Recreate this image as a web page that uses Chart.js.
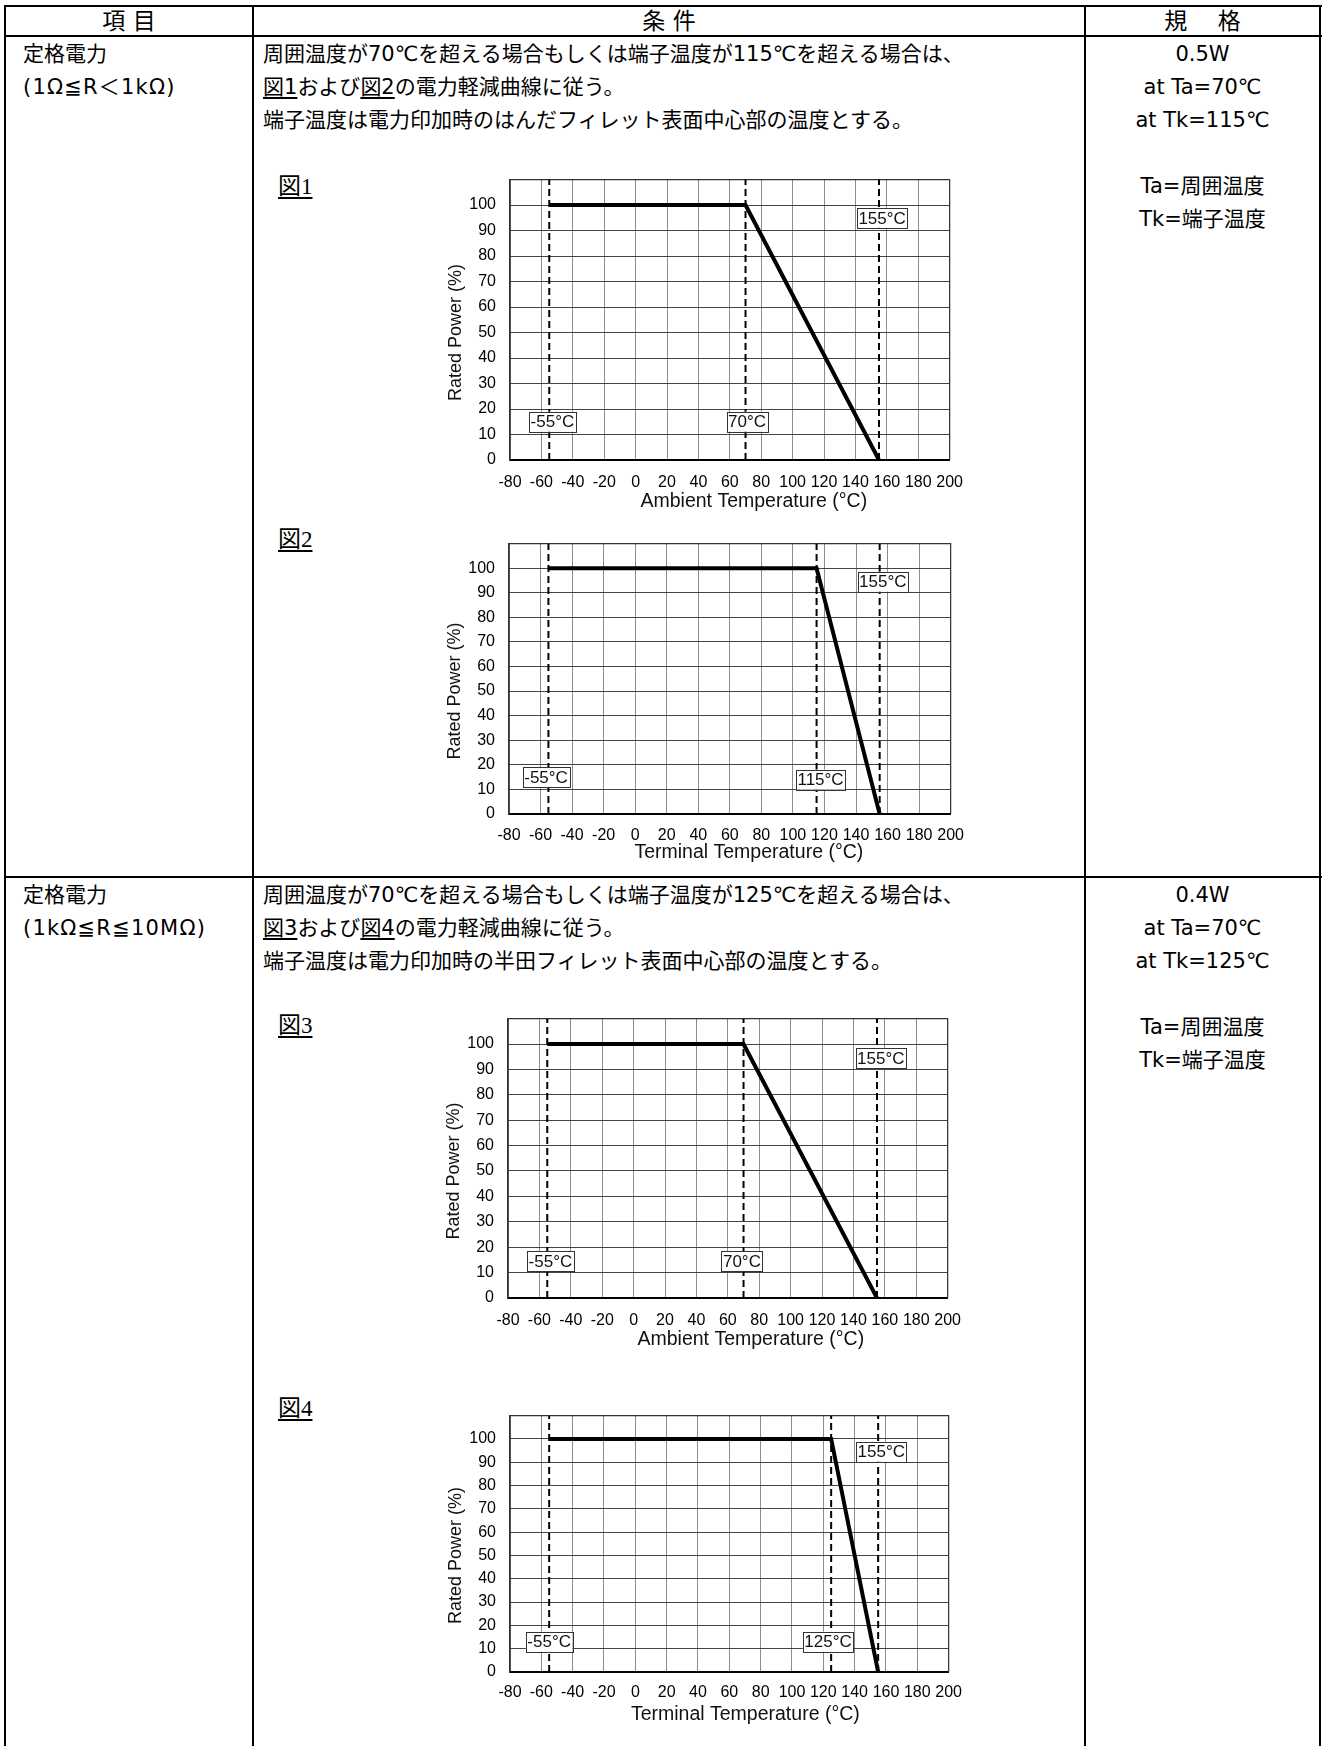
<!DOCTYPE html>
<html lang="ja">
<head>
<meta charset="utf-8">
<script src="https://cdn.jsdelivr.net/npm/chart.js@4.4.1/dist/chart.umd.min.js"></script>
<style>
html,body{margin:0;padding:0;background:#fff;overflow:hidden;}
body{width:1324px;height:1746px;position:relative;font-family:"DejaVu Sans","Noto Sans CJK JP",sans-serif;color:#000;}
.ln{position:absolute;background:#000;}
.t{position:absolute;font-size:21px;line-height:33px;white-space:nowrap;}
.h{position:absolute;font-size:23px;line-height:30px;top:6px;height:30px;text-align:center;white-space:pre;}
.c{text-align:center;}
.sp{letter-spacing:1.2px;}
u{text-decoration-thickness:1.5px;text-underline-offset:3px;}
.fig{position:absolute;left:278px;font-family:"Liberation Serif","Noto Sans CJK JP",serif;font-size:23px;line-height:26px;text-decoration:underline;text-decoration-thickness:2px;text-underline-offset:3px;}
canvas{position:absolute;}
</style>
</head>
<body>
<!-- table borders -->
<div class="ln" style="left:4px;top:5px;width:1318px;height:2px"></div>
<div class="ln" style="left:4px;top:35px;width:1318px;height:2px"></div>
<div class="ln" style="left:4px;top:876px;width:1318px;height:2px"></div>
<div class="ln" style="left:4px;top:5px;width:2px;height:1741px"></div>
<div class="ln" style="left:252px;top:5px;width:2px;height:1741px"></div>
<div class="ln" style="left:1084px;top:5px;width:2px;height:1741px"></div>
<div class="ln" style="left:1319px;top:5px;width:2px;height:1741px"></div>

<!-- header -->
<div class="h" style="left:6px;width:246px">項 目</div>
<div class="h" style="left:254px;width:830px">条 件</div>
<div class="h" style="left:1086px;width:233px">規　 格</div>

<!-- row 1 -->
<div class="t" style="left:23px;top:37.5px">定格電力<br><span class="sp">(1Ω≦R＜1kΩ)</span></div>
<div class="t" style="left:263px;top:37.5px">周囲温度が70℃を超える場合もしくは端子温度が115℃を超える場合は、<br><u>図1</u>および<u>図2</u>の電力軽減曲線に従う。<br>端子温度は電力印加時のはんだフィレット表面中心部の温度とする。</div>
<div class="t c" style="left:1086px;width:233px;top:37.5px">0.5W<br>at Ta=70℃<br>at Tk=115℃<br>&nbsp;<br>Ta=周囲温度<br>Tk=端子温度</div>
<div class="fig" style="top:174px">図1</div>
<div class="fig" style="top:527px">図2</div>

<!-- row 2 -->
<div class="t" style="left:23px;top:878.5px">定格電力<br><span class="sp">(1kΩ≦R≦10MΩ)</span></div>
<div class="t" style="left:263px;top:878.5px">周囲温度が70℃を超える場合もしくは端子温度が125℃を超える場合は、<br><u>図3</u>および<u>図4</u>の電力軽減曲線に従う。<br>端子温度は電力印加時の半田フィレット表面中心部の温度とする。</div>
<div class="t c" style="left:1086px;width:233px;top:878.5px">0.4W<br>at Ta=70℃<br>at Tk=125℃<br>&nbsp;<br>Ta=周囲温度<br>Tk=端子温度</div>
<div class="fig" style="top:1013px">図3</div>
<div class="fig" style="top:1396px">図4</div>

<canvas id="c1"></canvas>
<canvas id="c2"></canvas>
<canvas id="c3"></canvas>
<canvas id="c4"></canvas>

<script>
// ---- data ----
const xTickLabels = ['-80','-60','-40','-20','0','20','40','60','80','100','120','140','160','180','200'];
const yTickLabels = ['0','10','20','30','40','50','60','70','80','90','100'];

const fig1Temp = [-55, 70, 155];
const fig1Power = [100, 100, 0];
const fig2Temp = [-55, 115, 155];
const fig2Power = [100, 100, 0];
const fig3Temp = [-55, 70, 155];
const fig3Power = [100, 100, 0];
const fig4Temp = [-55, 125, 155];
const fig4Power = [100, 100, 0];

const fig1Guides = [-55, 70, 155];
const fig2Guides = [-55, 115, 155];
const fig3Guides = [-55, 70, 155];
const fig4Guides = [-55, 125, 155];

const fig1Notes = ['-55°C', '70°C', '155°C'];
const fig2Notes = ['-55°C', '115°C', '155°C'];
const fig3Notes = ['-55°C', '70°C', '155°C'];
const fig4Notes = ['-55°C', '125°C', '155°C'];

const ambientTitle = 'Ambient Temperature (°C)';
const terminalTitle = 'Terminal Temperature (°C)';
const powerTitle = 'Rated Power (%)';

const X_MIN = -80, X_MAX = 200, Y_MIN = 0, Y_MAX = 110;

// ---- layout (positions / styles) ----
const layouts = [
  {id:'c1', plot:[510,180,950,461], notesAt:[[-53,15],[71,15],[157,95]], xTitleDx:24, xTitleDy:42, tickPad:13},
  {id:'c2', plot:[509,544,951,815], notesAt:[[-56.5,15],[117.5,14],[157,94.5]], xTitleDx:19, xTitleDy:39, tickPad:12},
  {id:'c3', plot:[508,1019,948,1299], notesAt:[[-53,14.5],[69,14.5],[157.4,94.5]], xTitleDx:23, xTitleDy:42, tickPad:13},
  {id:'c4', plot:[510,1416,949,1673], notesAt:[[-55,13],[123,13],[157,94.5]], xTitleDx:16, xTitleDy:43, tickPad:11}
];
const FONT = "'Liberation Sans', Arial, sans-serif";
Chart.defaults.font.family = FONT;
Chart.defaults.color = '#000';

function makeDecor(cfg, notes, xTitle) {
  return {
    id: 'decor_' + cfg.id,
    beforeDatasetsDraw(chart) {
      const {ctx, chartArea: a} = chart;
      ctx.save();
      ctx.strokeStyle = '#333';
      ctx.lineWidth = 1.2;
      ctx.beginPath();
      ctx.moveTo(a.left, a.bottom);
      ctx.lineTo(a.left, a.top);
      ctx.lineTo(a.right, a.top);
      ctx.lineTo(a.right, a.bottom);
      ctx.stroke();
      ctx.restore();
    },
    afterDatasetsDraw(chart) {
      const {ctx} = chart;
      const xs = chart.scales.x, ys = chart.scales.y;
      ctx.save();
      ctx.font = '17px ' + FONT;
      ctx.textAlign = 'center';
      ctx.textBaseline = 'middle';
      notes.forEach((txt, i) => {
        const px = xs.getPixelForValue(cfg.notesAt[i][0]);
        const py = ys.getPixelForValue(cfg.notesAt[i][1]);
        const w = ctx.measureText(txt).width + 3;
        const h = 20;
        ctx.fillStyle = '#fff';
        ctx.fillRect(px - w/2, py - h/2, w, h);
        ctx.strokeStyle = '#333';
        ctx.lineWidth = 1;
        ctx.strokeRect(Math.round(px - w/2) + 0.5, Math.round(py - h/2) + 0.5, Math.round(w), h);
        ctx.fillStyle = '#111';
        ctx.fillText(txt, px, py + 1);
      });
      ctx.restore();
    },
    afterDraw(chart) {
      const {ctx, chartArea: a} = chart;
      const ys = chart.scales.y;
      ctx.save();
      ctx.fillStyle = '#111';
      ctx.font = '19.5px ' + FONT;
      ctx.textAlign = 'center';
      ctx.textBaseline = 'middle';
      ctx.fillText(xTitle, (a.left + a.right) / 2 + cfg.xTitleDx, a.bottom + cfg.xTitleDy);
      ctx.translate(a.left - 54, ys.getPixelForValue(50));
      ctx.rotate(-Math.PI / 2);
      ctx.font = '18px ' + FONT;
      ctx.fillText(powerTitle, 0, 0);
      ctx.restore();
    }
  };
}

function chartConfig(cfg, temps, powers, guides, notes, xTitle) {
  const datasets = [{
    data: temps.map((t, i) => ({x: t, y: powers[i]})),
    borderColor: '#000', borderWidth: 4, pointRadius: 0, tension: 0, order: 0,
    borderJoinStyle: 'miter'
  }];
  guides.forEach(g => datasets.push({
    data: [{x: g, y: Y_MIN}, {x: g, y: Y_MAX}],
    borderColor: '#000', borderWidth: 2, borderDash: [7, 4], pointRadius: 0, order: 1
  }));
  return {
    type: 'line',
    data: {datasets},
    options: {
      responsive: false,
      maintainAspectRatio: false,
      animation: false,
      devicePixelRatio: 1,
      layout: {padding: {left: 0, top: 10, right: 20, bottom: 0}},
      plugins: {legend: {display: false}, tooltip: {enabled: false}},
      scales: {
        x: {
          type: 'linear', min: X_MIN, max: X_MAX,
          afterFit: s => { s.height = 60; },
          ticks: {stepSize: 20, autoSkip: false, maxRotation: 0, minRotation: 0,
                  padding: cfg.tickPad, color: '#000', font: {size: 16},
                  callback: (v, i) => xTickLabels[i] ?? ''},
          grid: {color: '#8c8c8c', lineWidth: 1, drawTicks: false},
          border: {color: '#000', width: 2}
        },
        y: {
          type: 'linear', min: Y_MIN, max: Y_MAX,
          afterFit: s => { s.width = 90; },
          ticks: {stepSize: 10, autoSkip: false, padding: 14, color: '#000', font: {size: 16},
                  callback: (v, i) => yTickLabels[i] ?? ''},
          grid: {color: '#444', lineWidth: 1, drawTicks: false},
          border: {color: '#333', width: 1.2}
        }
      }
    },
    plugins: [makeDecor(cfg, notes, xTitle)]
  };
}

function build(cfg, temps, powers, guides, notes, xTitle) {
  const [L, T, R, B] = cfg.plot;
  const cv = document.getElementById(cfg.id);
  // measure how the library lays out the plot area inside the canvas, then align it
  let offL = 90, offT = 10, offR = 20, offB = 60;
  let chart;
  for (let pass = 0; pass < 3; pass++) {
    cv.width = offL + (R - L) + offR;
    cv.height = offT + (B - T) + offB;
    cv.style.left = (L - offL) + 'px';
    cv.style.top = (T - offT) + 'px';
    chart = new Chart(cv, chartConfig(cfg, temps, powers, guides, notes, xTitle));
    const a = chart.chartArea;
    const nL = a.left, nT = a.top, nR = cv.width - a.right, nB = cv.height - a.bottom;
    if (Math.abs(nL - offL) < 0.5 && Math.abs(nT - offT) < 0.5 && Math.abs(nR - offR) < 0.5 && Math.abs(nB - offB) < 0.5) break;
    offL = nL; offT = nT; offR = nR; offB = nB;
    if (pass < 2) chart.destroy();
  }
}

build(layouts[0], fig1Temp, fig1Power, fig1Guides, fig1Notes, ambientTitle);
build(layouts[1], fig2Temp, fig2Power, fig2Guides, fig2Notes, terminalTitle);
build(layouts[2], fig3Temp, fig3Power, fig3Guides, fig3Notes, ambientTitle);
build(layouts[3], fig4Temp, fig4Power, fig4Guides, fig4Notes, terminalTitle);
</script>
</body>
</html>
